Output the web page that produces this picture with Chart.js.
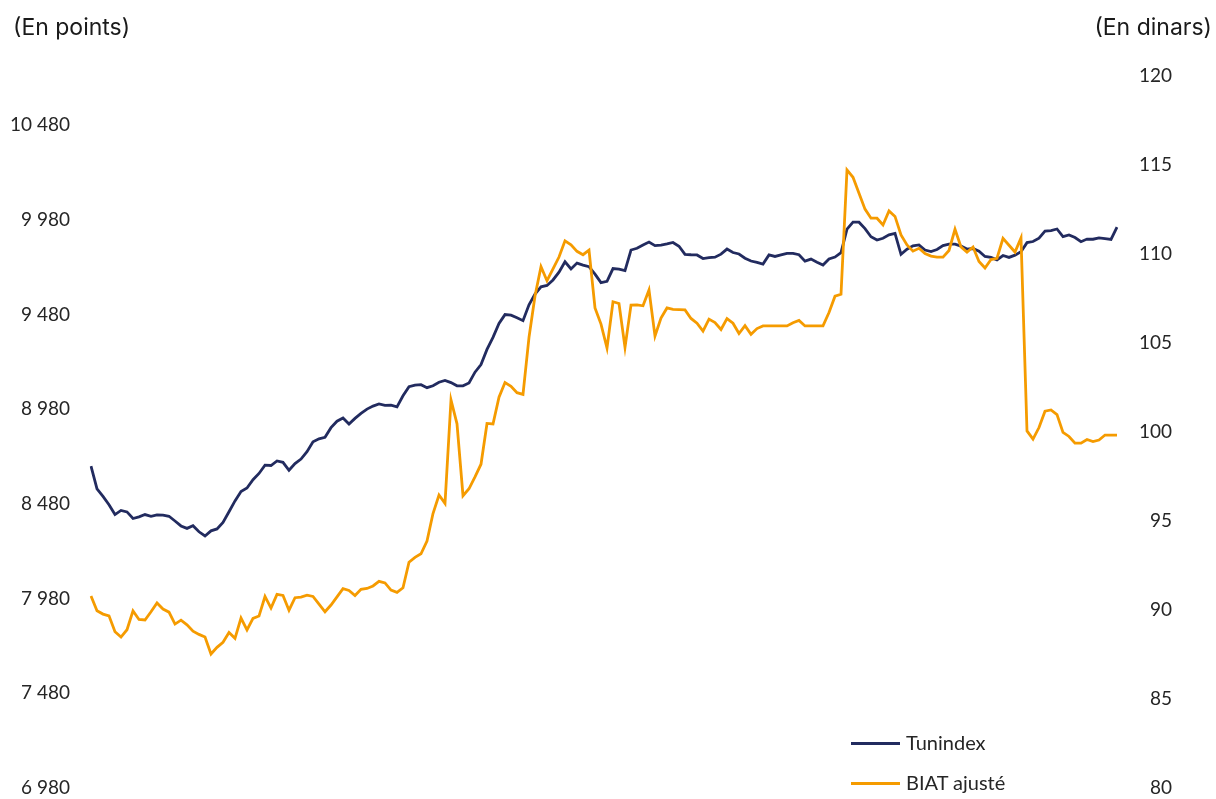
<!DOCTYPE html>
<html lang="fr">
<head>
<meta charset="utf-8">
<script src="https://cdn.jsdelivr.net/npm/chart.js@4"></script>
<style>
  html, body { margin: 0; padding: 0; background: #ffffff; }
  #wrap { position: relative; width: 1216px; height: 799px; overflow: hidden; }
  canvas { position: absolute; left: 0; top: 0; }
  .unit { position: absolute; top: 12px; font-family: Inter, "Noto Sans", sans-serif; font-size: 23px; color: #1a1a1a; line-height: 30px; white-space: nowrap; }
  .leg { position: absolute; left: 851px; font-family: Lato, "Noto Sans", sans-serif; font-size: 20px; color: #262626; white-space: nowrap; line-height: 24px; }
  .leg .sw { display: inline-block; width: 49px; height: 3px; vertical-align: middle; margin-right: 6px; position: relative; top: -1px; }
</style>
</head>
<body>
<div id="wrap">
  <canvas id="c" width="1216" height="799"></canvas>
  <div class="unit" style="left:13px;">(En points)</div>
  <div class="unit" style="right:4px;">(En dinars)</div>
  <div class="leg" style="top:730px;"><span class="sw" style="background:#222b5f"></span>Tunindex</div>
  <div class="leg" style="top:770px;"><span class="sw" style="background:#f59b00"></span>BIAT ajusté</div>
</div>
<script>
// Tunindex (points, left axis)
const tunindex = [
  8680, 8560, 8520, 8476, 8424, 8446, 8438, 8403, 8412, 8424,
  8415, 8422, 8421, 8415, 8390, 8364, 8351, 8365, 8333, 8311,
  8338, 8348, 8382, 8439, 8496, 8546, 8564, 8608, 8641, 8685,
  8683, 8707, 8700, 8658, 8693, 8717, 8756, 8808, 8824, 8832,
  8883, 8917, 8934, 8902, 8932, 8958, 8981, 8997, 9008, 9001,
  9002, 8993, 9051, 9099, 9108, 9110, 9094, 9104, 9123, 9132,
  9121, 9104, 9104, 9119, 9176, 9216, 9296, 9360, 9433, 9480,
  9477, 9463, 9448, 9532, 9588, 9627, 9634, 9663, 9704, 9759,
  9721, 9752, 9741, 9733, 9694, 9649, 9656, 9723, 9720, 9712,
  9821, 9830, 9848, 9863, 9844, 9847, 9853, 9861, 9841, 9798,
  9796, 9795, 9776, 9781, 9783, 9799, 9826, 9808, 9800, 9778,
  9763, 9756, 9747, 9795, 9787, 9795, 9803, 9803, 9796, 9762,
  9773, 9757, 9742, 9774, 9784, 9807, 9931, 9968, 9968, 9934,
  9891, 9874, 9883, 9901, 9909, 9798, 9825, 9843, 9848, 9821,
  9813, 9824, 9844, 9852, 9852, 9842, 9826, 9829, 9815, 9787,
  9782, 9769, 9792, 9782, 9794, 9812, 9860, 9866, 9884, 9921,
  9924, 9932, 9892, 9901, 9887, 9865, 9879, 9878, 9885, 9881,
  9877, 9942
];

// BIAT ajusté (dinars, right axis)
const biat = [
  90.79, 89.96, 89.77, 89.67, 88.78, 88.48, 88.89, 89.95, 89.47, 89.44,
  89.90, 90.39, 90.05, 89.88, 89.21, 89.43, 89.17, 88.81, 88.63, 88.48,
  87.53, 87.90, 88.19, 88.74, 88.41, 89.55, 88.88, 89.53, 89.66, 90.76,
  90.11, 90.88, 90.82, 89.99, 90.69, 90.72, 90.83, 90.76, 90.33, 89.90,
  90.28, 90.74, 91.20, 91.10, 90.81, 91.16, 91.21, 91.35, 91.61, 91.52,
  91.12, 90.99, 91.25, 92.68, 92.96, 93.16, 93.87, 95.42, 96.46, 95.99,
  101.80, 100.46, 96.42, 96.81, 97.48, 98.19, 100.48, 100.45, 101.96, 102.78,
  102.57, 102.21, 102.11, 105.32, 107.64, 109.29, 108.50, 109.17, 109.83, 110.74,
  110.52, 110.15, 109.96, 110.22, 106.97, 106.06, 104.72, 107.32, 107.22, 104.75,
  107.13, 107.14, 107.09, 107.98, 105.39, 106.40, 106.97, 106.89, 106.88, 106.86,
  106.38, 106.11, 105.67, 106.34, 106.15, 105.76, 106.37, 106.11, 105.53, 105.97,
  105.49, 105.81, 105.96, 105.96, 105.96, 105.96, 105.96, 106.14, 106.27, 105.96,
  105.96, 105.96, 105.96, 106.71, 107.63, 107.74, 114.72, 114.31, 113.41, 112.52,
  112.01, 112.01, 111.63, 112.42, 112.11, 111.07, 110.51, 110.16, 110.32, 110.03,
  109.88, 109.83, 109.82, 110.20, 111.39, 110.40, 110.10, 110.39, 109.58, 109.21,
  109.69, 109.76, 110.88, 110.49, 110.11, 110.90, 100.06, 99.60, 100.25, 101.17,
  101.24, 100.98, 99.98, 99.75, 99.37, 99.37, 99.58, 99.46, 99.55, 99.83,
  99.83, 99.83
];

// Trading sessions (no labels shown on the x axis)
const sessions = tunindex.map((_, i) => i + 1);

// Axis ticks
const leftTicks = [6980, 7480, 7980, 8480, 8980, 9480, 9980, 10480];
const leftMin = 6980, leftMax = 10740;
const rightTicks = [80, 85, 90, 95, 100, 105, 110, 115, 120];

const fmt = v => String(v).replace(/\B(?=(\d{3})+(?!\d))/g, ' ');

new Chart(document.getElementById('c'), {
  type: 'line',
  data: {
    labels: sessions,
    datasets: [
      {
        label: 'Tunindex',
        data: tunindex,
        yAxisID: 'yL',
        borderColor: '#222b5f',
        borderWidth: 2.8,
        pointRadius: 0,
        tension: 0,
        order: 1
      },
      {
        label: 'BIAT ajusté',
        data: biat,
        yAxisID: 'yR',
        borderColor: '#f59b00',
        borderWidth: 2.8,
        pointRadius: 0,
        tension: 0,
        order: 0
      }
    ]
  },
  options: {
    responsive: false,
    animation: false,
    layout: { padding: { top: 76, bottom: 11, left: 0, right: 44 } },
    plugins: { legend: { display: false }, tooltip: { enabled: false } },
    scales: {
      x: {
        display: false,
        offset: false
      },
      yL: {
        position: 'left',
        min: leftMin,
        max: leftMax,
        afterBuildTicks: s => { s.ticks = leftTicks.map(v => ({ value: v })); },
        afterFit: s => { s.width = 91; s.paddingTop = 0; s.paddingBottom = 0; },
        grid: { display: false, drawTicks: false },
        border: { display: false },
        ticks: {
          padding: 21,
          color: '#262626',
          font: { family: 'Lato', size: 19 },
          callback: v => fmt(v)
        }
      },
      yR: {
        position: 'right',
        min: 80,
        max: 120,
        afterBuildTicks: s => { s.ticks = rightTicks.map(v => ({ value: v })); },
        afterFit: s => { s.width = 55; s.paddingTop = 0; s.paddingBottom = 0; },
        grid: { display: false, drawTicks: false },
        border: { display: false },
        ticks: {
          padding: 10,
          crossAlign: 'far',
          color: '#262626',
          font: { family: 'Lato', size: 19 },
          callback: v => fmt(v)
        }
      }
    }
  }
});
</script>
</body>
</html>
